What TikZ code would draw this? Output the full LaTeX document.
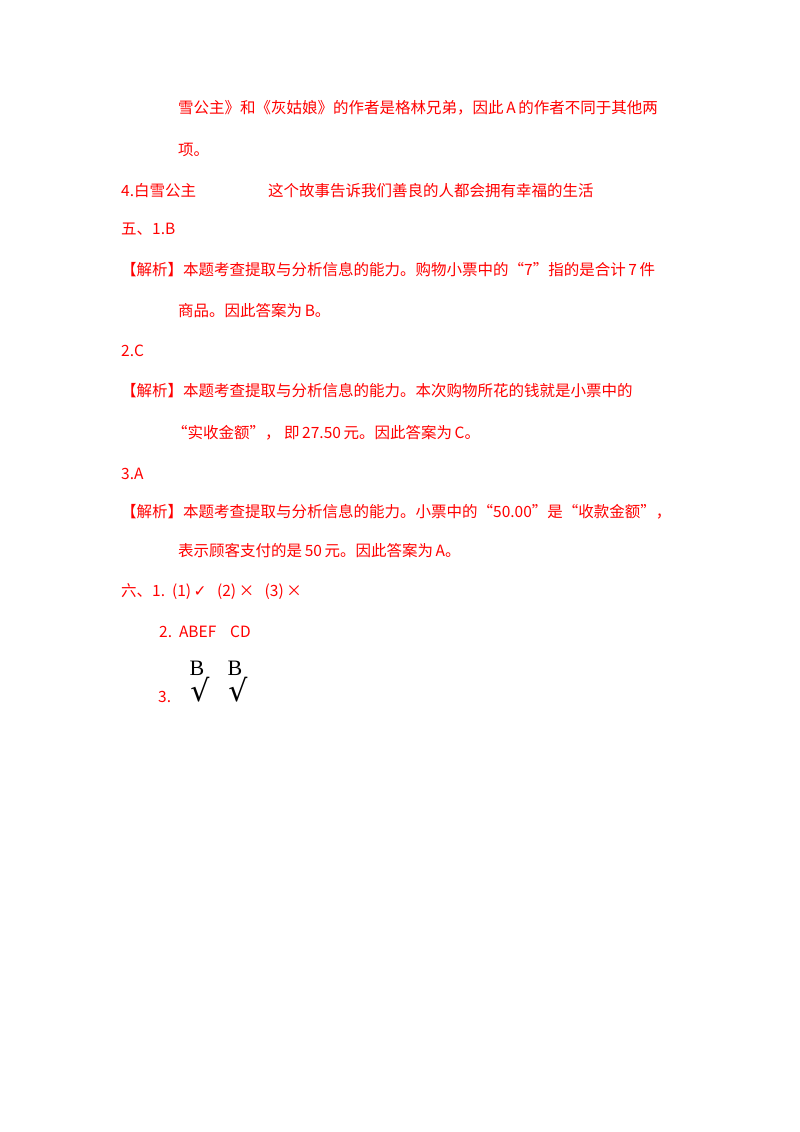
\documentclass[tikz,border=0pt]{standalone}
\usepackage{fontspec}
\setmainfont{Noto Sans CJK SC}
\newfontfamily\serifB{Liberation Serif}
\newfontfamily\djserif{DejaVu Serif}
\newfontfamily\djsans{DejaVu Sans}
\definecolor{ans}{RGB}{255,0,0}
\begin{document}
\begin{tikzpicture}[x=1pt,y=-1pt,
  t/.style={anchor=west,inner sep=0pt,text=ans,font=\fontsize{15.5}{18}\selectfont},
  bk/.style={anchor=center,inner sep=0pt,text=black}]
\useasboundingbox (0,0) rectangle (800,1132);
\node[t] (l1) at (178,108) {雪公主》和《灰姑娘》的作者是格林兄弟，因此\,A\,的作者不同于其他两};
\node[t] (l2) at (178,150) {项。};
\node[t] (l3) at (121,191) {4.白雪公主};
\node[t] (l3b) at (268,191) {这个故事告诉我们善良的人都会拥有幸福的生活};
\node[t] (l4) at (121,229) {五、1.B};
\node[t] (l5) at (121,270) {【解析】本题考查提取与分析信息的能力。购物小票中的“7”指的是合计\,7\,件};
\node[t] (l6) at (178,311) {商品。因此答案为\,B。};
\node[t] (l7) at (121,351) {2.C};
\node[t] (l8) at (121,391) {【解析】本题考查提取与分析信息的能力。本次购物所花的钱就是小票中的};
\node[t] (l9) at (172,433) {“实收金额”，\ 即\,27.50\,元。因此答案为\,C。};
\node[t] (l10) at (121,474) {3.A};
\node[t] (l11) at (121,512) {【解析】本题考查提取与分析信息的能力。小票中的“50.00”是“收款金额”，};
\node[t] (l12) at (178,551) {表示顾客支付的是\,50\,元。因此答案为\,A。};
\node[t] (l13) at (121,592) {六、1.\ \ (1)\,{\djsans ✓}\ \ \ (2)\,×\ \ \ (3)\,×};
\node[t] (l14) at (159,632) {2.\ \ ABEF\ \ \ \ CD};
\node[t] (l15) at (158,697) {3.};
\node[bk,font=\serifB\fontsize{22}{22}\selectfont] (b1) at (197,668) {B};
\node[bk,font=\djserif\fontsize{30}{30}\selectfont] (c1) at (200,690) {√};
\node[bk,font=\serifB\fontsize{22}{22}\selectfont] (b2) at (235,668) {B};
\node[bk,font=\djserif\fontsize{30}{30}\selectfont] (c2) at (238,690) {√};
\end{tikzpicture}
\end{document}
